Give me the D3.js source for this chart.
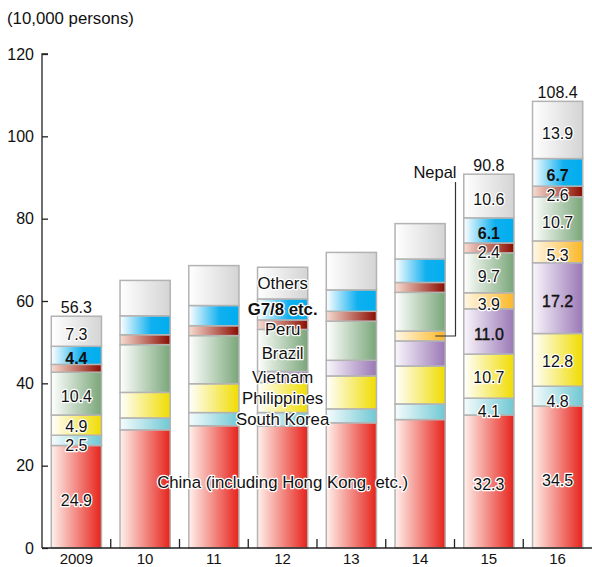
<!DOCTYPE html>
<html>
<head>
<meta charset="utf-8">
<script src="https://cdn.jsdelivr.net/npm/d3@7"></script>
<style>
  body { margin: 0; background: #fff; }
  svg { display: block; font-family: "Liberation Sans", Arial, Helvetica, sans-serif; }
</style>
</head>
<body>
<svg id="chart" width="592" height="567"></svg>
<script>
// ---- data ----
const years = ["2009", "10", "11", "12", "13", "14", "15", "16"];
const seriesNames = ["China (including Hong Kong, etc.)", "South Korea", "Philippines", "Vietnam", "Nepal", "Brazil", "Peru", "G7/8 etc.", "Others"];
const seriesKeys = ["china", "korea", "philippines", "vietnam", "nepal", "brazil", "peru", "g7", "others"];
const china       = [24.9, 28.7, 29.7, 29.6, 30.4, 31.2, 32.3, 34.5];
const korea       = [2.5, 2.9, 3.2, 3.3, 3.4, 3.8, 4.1, 4.8];
const philippines = [4.9, 6.2, 7.0, 7.3, 8.0, 9.2, 10.7, 12.8];
const vietnam     = [0, 0, 0, 2.7, 3.8, 6.1, 11.0, 17.2];
const nepal       = [0, 0, 0, 0, 0, 2.4, 3.9, 5.3];
const brazil      = [10.4, 11.6, 11.7, 10.2, 9.5, 9.4, 9.7, 10.7];
const peru        = [1.9, 2.4, 2.4, 2.3, 2.4, 2.4, 2.4, 2.6];
const g7          = [4.4, 4.6, 4.9, 5.1, 5.2, 5.7, 6.1, 6.7];
const others      = [7.3, 8.6, 9.7, 7.7, 9.1, 8.6, 10.6, 13.9];
const totals      = [56.3, 65.0, 68.6, 68.2, 71.8, 78.8, 90.8, 108.4];
const yTicks = [0, 20, 40, 60, 80, 100, 120];
const valueYears = ["2009", "15", "16"];
const nameYear = "12";
const shortNames = ["", "South Korea", "Philippines", "Vietnam", "", "Brazil", "Peru", "G7/8 etc.", "Others"];

// ---- styles ----
const gradStops = {
  china:       [["0%", "#fff1ec"], ["100%", "#e6231b"]],
  korea:       [["0%", "#f6fcfd"], ["100%", "#6fc8d3"]],
  philippines: [["0%", "#ffffff"], ["100%", "#f0dc00"]],
  vietnam:     [["0%", "#faf7fc"], ["100%", "#9a78b6"]],
  nepal:       [["0%", "#fff8e8"], ["100%", "#fbb726"]],
  brazil:      [["0%", "#ffffff"], ["100%", "#79a679"]],
  peru:        [["0%", "#f8ddd2"], ["100%", "#8a0c00"]],
  g7:          [["0%", "#ffffff"], ["62%", "#10b0ef"], ["100%", "#00aeef"]],
  others:      [["0%", "#ffffff"], ["100%", "#d4d4d4"]]
};
const nameNudge = { peru: 4, brazil: 3 };
const valueNudge = { korea: 5, philippines: 1, peru: 4 };

const data = years.map((yr, i) => ({
  year: yr, china: china[i], korea: korea[i], philippines: philippines[i], vietnam: vietnam[i],
  nepal: nepal[i], brazil: brazil[i], peru: peru[i], g7: g7[i], others: others[i], total: totals[i]
}));

const svg = d3.select("#chart");
const defs = svg.append("defs");
seriesKeys.forEach(k => {
  const g = defs.append("linearGradient").attr("id", "grad-" + k)
    .attr("x1", "0%").attr("x2", "100%").attr("y1", "0%").attr("y2", "0%");
  gradStops[k].forEach(s => g.append("stop").attr("offset", s[0]).attr("stop-color", s[1]));
});

const y = d3.scaleLinear().domain([0, 120]).range([548, 54]);
const x = d3.scaleBand().domain(years).range([42, 592]).paddingInner(0.27).paddingOuter(0.135);
const xb = d3.scaleBand().domain(years).range([42, 592]).padding(0);

const stack = d3.stack().keys(seriesKeys);
const stacked = stack(data);

// bars
const layer = svg.append("g").selectAll("g").data(stacked).join("g")
  .attr("fill", d => "url(#grad-" + d.key + ")");
layer.selectAll("rect").data(d => d.filter(s => s[1] - s[0] > 0)).join("rect")
  .attr("x", d => x(d.data.year))
  .attr("width", x.bandwidth())
  .attr("y", d => y(d[1]))
  .attr("height", d => y(d[0]) - y(d[1]))
  .attr("stroke", "#b3b3b3")
  .attr("stroke-width", 1.5);

function halo(t) {
  return t.attr("stroke", "#fff").attr("stroke-width", 2.5).attr("paint-order", "stroke").attr("stroke-linejoin", "round");
}

// value labels
const labelG = svg.append("g").attr("font-size", 16).attr("text-anchor", "middle");
stacked.forEach(s => {
  s.forEach(d => {
    const v = d[1] - d[0];
    if (v <= 0 || !valueYears.includes(d.data.year)) return;
    if (d.data.year === "2009" && s.key === "peru") return;
    const nudge = valueNudge[s.key] !== undefined ? valueNudge[s.key] : 3;
    const cy = (y(d[0]) + y(d[1])) / 2 + nudge;
    const t = labelG.append("text")
      .attr("x", x(d.data.year) + x.bandwidth() / 2)
      .attr("y", cy)
      .attr("dy", "0.36em")
      .attr("fill", "#111")
      .text(v.toFixed(1));
    if (s.key === "g7") t.attr("font-weight", "bold");
    else if (s.key === "vietnam") t.attr("stroke", "#111").attr("stroke-width", 0.4);
    else halo(t);
  });
});

// totals
valueYears.forEach(yr => {
  const d = data.find(e => e.year === yr);
  labelG.append("text")
    .attr("x", x(yr) + x.bandwidth() / 2)
    .attr("y", y(d.total) - 3.5)
    .attr("fill", "#111")
    .text(d.total.toFixed(1));
});

// series names in 2012 bar
const nameG = svg.append("g").attr("font-size", 16.8).attr("text-anchor", "middle");
stacked.forEach((s, si) => {
  const d = s.find(e => e.data.year === nameYear);
  const nm = shortNames[si];
  if (!nm) return;
  const cy = (y(d[0]) + y(d[1])) / 2 + (nameNudge[s.key] || 0);
  halo(nameG.append("text")
    .attr("x", x(nameYear) + x.bandwidth() / 2)
    .attr("y", cy)
    .attr("dy", "0.36em")
    .attr("fill", "#111")
    .attr("font-weight", s.key === "g7" ? "bold" : "normal")
    .text(nm));
});
// China name across the bars
halo(nameG.append("text")
  .attr("x", x(nameYear) + x.bandwidth() / 2)
  .attr("y", y(16))
  .attr("dy", "0.36em")
  .attr("fill", "#111")
  .text(seriesNames[0]));

// Nepal callout
const nepalSeg = stacked[seriesKeys.indexOf("nepal")].find(e => e.data.year === "14");
const nepY = (y(nepalSeg[0]) + y(nepalSeg[1])) / 2;
const lineX = xb("15") + 1;
svg.append("path")
  .attr("d", `M${lineX},${182}V${nepY}H${x("14") + x.bandwidth() - 10}`)
  .attr("fill", "none").attr("stroke", "#333").attr("stroke-width", 1.2);
svg.append("text")
  .attr("x", lineX + 1).attr("y", 178)
  .attr("text-anchor", "end").attr("font-size", 16.5).attr("fill", "#111")
  .text("Nepal");

// y axis
const yAxis = d3.axisLeft(y).tickValues(yTicks).tickSize(-6).tickPadding(8).tickFormat(d3.format("d"));
const ya = svg.append("g").attr("transform", "translate(42,0)").call(yAxis);
ya.select(".domain").attr("stroke", "#222").attr("stroke-width", 1.3).attr("d", "M0,548V54h6");
ya.selectAll(".tick line").attr("stroke", "#222").attr("stroke-width", 1.3);
ya.selectAll(".tick text").attr("font-size", 16).attr("fill", "#111").attr("font-family", null);

// x axis
const xAxis = d3.axisBottom(x).tickSize(0).tickPadding(5);
const xa = svg.append("g").attr("transform", "translate(0,548)").call(xAxis);
xa.select(".domain").attr("stroke", "#222").attr("stroke-width", 1.3).attr("d", "M42,0H592");
xa.selectAll(".tick text").attr("font-size", 15).attr("fill", "#111").attr("font-family", null);
xa.selectAll(".sep").data(years.slice(1)).join("line").attr("class", "sep")
  .attr("x1", d => xb(d)).attr("x2", d => xb(d))
  .attr("y1", 0).attr("y2", -9)
  .attr("stroke", "#222").attr("stroke-width", 1.3);

// unit title
svg.append("text").attr("x", 7).attr("y", 24).attr("font-size", 16.8).attr("fill", "#111")
  .text("(10,000 persons)");
</script>
</body>
</html>
